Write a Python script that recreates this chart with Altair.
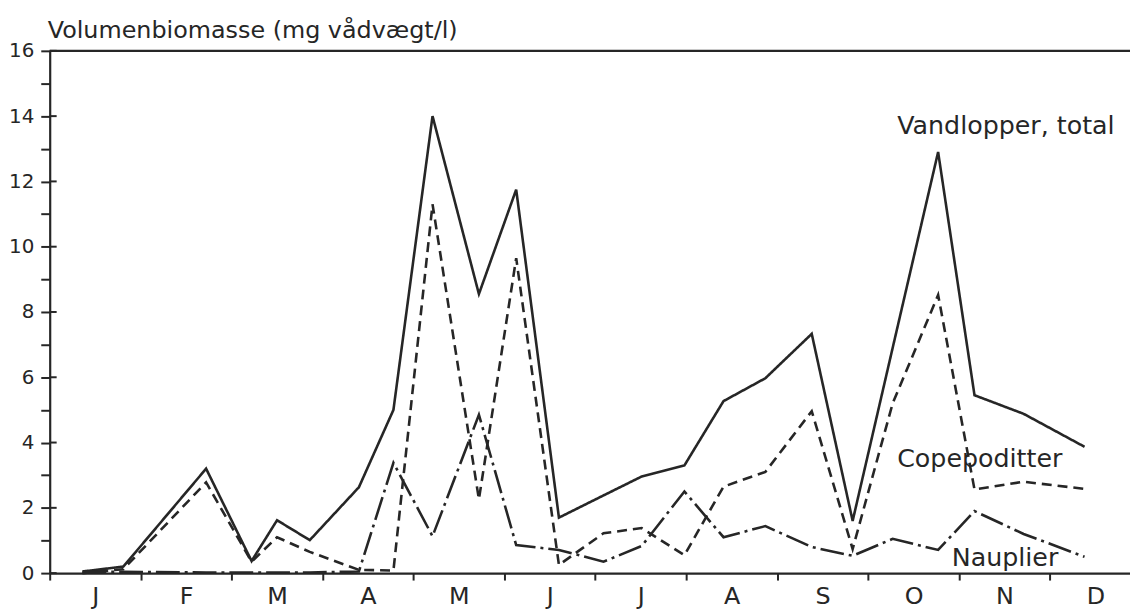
import altair as alt
import pandas as pd

# ---- data ----
month_letters = ['J', 'F', 'M', 'A', 'M', 'J', 'J', 'A', 'S', 'O', 'N', 'D']
sample_month = [0.36, 0.81, 1.72, 2.22, 2.50, 2.86, 3.40, 3.78, 4.21, 4.72, 5.13, 5.60,
                6.09, 6.51, 6.98, 7.41, 7.87, 8.38, 8.83, 9.27, 9.77, 10.17, 10.71, 11.38]
total = [0.05, 0.2, 3.2, 0.37, 1.62, 1.01, 2.63, 5.0, 14.0, 8.55, 11.75, 1.7,
         2.38, 2.96, 3.3, 5.27, 5.97, 7.33, 1.6, 6.9, 12.9, 5.45, 4.88, 3.87]
copepoditter = [0.0, 0.12, 2.78, 0.35, 1.1, 0.65, 0.1, 0.08, 11.3, 2.26, 9.65, 0.25,
                1.22, 1.38, 0.55, 2.65, 3.1, 4.96, 0.74, 5.2, 8.52, 2.56, 2.8, 2.58]
nauplier = [0.03, 0.04, 0.02, 0.02, 0.02, 0.02, 0.05, 3.38, 1.13, 4.85, 0.86, 0.71,
            0.35, 0.83, 2.5, 1.1, 1.44, 0.8, 0.53, 1.05, 0.71, 1.9, 1.2, 0.5]
series_names = ["Vandlopper, total", "Copepoditter", "Nauplier"]
label_text = ["Vandlopper, total", "Copepoditter", "Nauplier"]
label_month = [9.32, 9.32, 9.92]
label_value = [13.45, 3.26, 0.23]
y_title = "Volumenbiomasse (mg vådvægt/l)"
y_ticks = list(range(0, 17))
y_major = list(range(0, 17, 2))

rows = []
for name, vals in zip(series_names, [total, copepoditter, nauplier]):
    for m, v in zip(sample_month, vals):
        rows.append({"m": m, "v": v, "s": name})
df = pd.DataFrame(rows)

W, H = 1088, 526
XMAX = 11.88
ink = "#262626"
FONT = "DejaVu Sans"

xscale = alt.Scale(domain=[0, XMAX], nice=False, zero=False)
yscale = alt.Scale(domain=[0, 16], nice=False)

x_vals = [i * 0.5 for i in range(24)]
letters_js = "[" + ",".join("'" + c + "'" for c in month_letters) + "]"
x_label_expr = "datum.value % 1 == 0.5 ? " + letters_js + "[floor(datum.value)] : ''"
x_axis = alt.Axis(
    values=x_vals,
    labelExpr=x_label_expr,
    tickOpacity={"condition": {"test": "datum.value % 1 == 0", "value": 1}, "value": 0},
    tickSize=7, tickWidth=2, tickColor=ink,
    domainColor=ink, domainWidth=2.2,
    labelFontSize=24, labelFont=FONT, labelColor=ink, labelPadding=5,
    labelFlush=False, labelOverlap=False, labelBound=False,
    grid=False, title=None,
)
y_axis = alt.Axis(
    values=y_ticks,
    labelExpr="datum.value % 2 == 0 ? datum.label : ''",
    tickSize=9, tickWidth=2, tickColor=ink,
    domainColor=ink, domainWidth=2.2,
    labelFontSize=20, labelFont=FONT, labelColor=ink, labelPadding=7,
    labelFlush=False, labelOverlap=False, labelBound=False,
    grid=False, title=None,
)


def X(f):
    return alt.X(f, scale=xscale, axis=x_axis)


def Y(f):
    return alt.Y(f, scale=yscale, axis=y_axis)


lines = alt.Chart(df).mark_line(strokeWidth=2.6, color=ink, strokeCap="butt").encode(
    x=X("m:Q"),
    y=Y("v:Q"),
    strokeDash=alt.StrokeDash(
        "s:N",
        scale=alt.Scale(domain=series_names, range=[[1, 0], [10, 6], [24, 5, 3, 5]]),
        legend=None,
    ),
)

inner_ticks = alt.Chart(pd.DataFrame({"v": y_major})).mark_rule(color=ink, strokeWidth=2).encode(
    y=Y("v:Q"), x=alt.value(0), x2=alt.value(7)
)

top_border = alt.Chart(pd.DataFrame({"v": [16]})).mark_rule(color=ink, strokeWidth=2.2).encode(
    y=Y("v:Q"), x=alt.value(0), x2=alt.value(W)
)

labels = alt.Chart(pd.DataFrame({"m": label_month, "v": label_value, "t": label_text})).mark_text(
    align="left", baseline="alphabetic", fontSize=25.5, font=FONT, color=ink
).encode(x=X("m:Q"), y=Y("v:Q"), text="t:N")

title = alt.Chart(pd.DataFrame({"v": [16.4], "t": [y_title]})).mark_text(
    align="left", baseline="alphabetic", fontSize=24, font=FONT, color=ink
).encode(x=alt.value(-2), y=Y("v:Q"), text="t:N")

chart = alt.layer(top_border, inner_ticks, lines, labels, title).properties(
    width=W, height=H,
    padding={"left": 42, "top": 41, "right": 0, "bottom": 35},
    autosize=alt.AutoSizeParams(type="none"),
    background="white",
).configure_view(stroke=None)

chart.save("out.html", embed_options={"renderer": "svg", "actions": False})
